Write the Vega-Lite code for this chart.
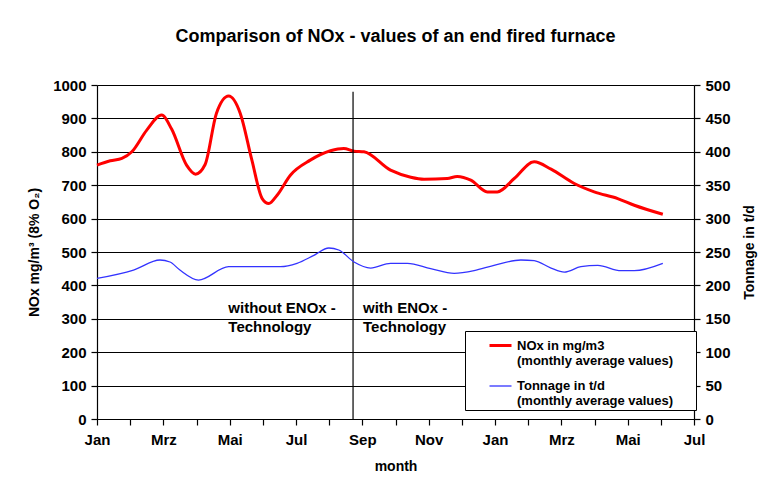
{
  "$schema": "https://vega.github.io/schema/vega-lite/v6.json",
  "width": 597,
  "height": 334,
  "autosize": "none",
  "padding": {"left": 97, "top": 85, "right": 78, "bottom": 66},
  "background": "white",
  "config": {
    "font": "Liberation Sans",
    "view": {"stroke": null},
    "axis": {"labelColor": "black", "titleColor": "black", "domainColor": "black", "tickColor": "black", "labelFontWeight": "bold", "labelFontSize": 15, "titleFontWeight": "bold", "titleFontSize": 14, "tickSize": 6, "domainWidth": 1.2, "tickWidth": 1.2}
  },
  "title": {"text": "Comparison of NOx - values of an end fired furnace", "fontSize": 18, "fontWeight": "bold", "color": "black", "anchor": "middle", "frame": "group", "offset": 32},
  "datasets": {
    "nox": [
      {"month": 0, "value": 760, "series": "NOx"},
      {"month": 0.4, "value": 773, "series": "NOx"},
      {"month": 0.75, "value": 780, "series": "NOx"},
      {"month": 1.05, "value": 800, "series": "NOx"},
      {"month": 1.5, "value": 865, "series": "NOx"},
      {"month": 1.95, "value": 910, "series": "NOx"},
      {"month": 2.25, "value": 868, "series": "NOx"},
      {"month": 2.7, "value": 760, "series": "NOx"},
      {"month": 2.97, "value": 733, "series": "NOx"},
      {"month": 3.26, "value": 762, "series": "NOx"},
      {"month": 3.6, "value": 915, "series": "NOx"},
      {"month": 3.97, "value": 967, "series": "NOx"},
      {"month": 4.32, "value": 915, "series": "NOx"},
      {"month": 4.67, "value": 775, "series": "NOx"},
      {"month": 4.98, "value": 660, "series": "NOx"},
      {"month": 5.18, "value": 645, "series": "NOx"},
      {"month": 5.43, "value": 670, "series": "NOx"},
      {"month": 5.83, "value": 730, "series": "NOx"},
      {"month": 6.43, "value": 775, "series": "NOx"},
      {"month": 7.04, "value": 803, "series": "NOx"},
      {"month": 7.44, "value": 810, "series": "NOx"},
      {"month": 7.75, "value": 802, "series": "NOx"},
      {"month": 8.05, "value": 800, "series": "NOx"},
      {"month": 8.85, "value": 745, "series": "NOx"},
      {"month": 9.46, "value": 724, "series": "NOx"},
      {"month": 9.86, "value": 718, "series": "NOx"},
      {"month": 10.56, "value": 720, "series": "NOx"},
      {"month": 10.86, "value": 726, "series": "NOx"},
      {"month": 11.27, "value": 715, "series": "NOx"},
      {"month": 11.77, "value": 680, "series": "NOx"},
      {"month": 12.07, "value": 680, "series": "NOx"},
      {"month": 12.58, "value": 720, "series": "NOx"},
      {"month": 13.18, "value": 770, "series": "NOx"},
      {"month": 13.69, "value": 748, "series": "NOx"},
      {"month": 14.39, "value": 705, "series": "NOx"},
      {"month": 14.99, "value": 680, "series": "NOx"},
      {"month": 15.7, "value": 660, "series": "NOx"},
      {"month": 16.2, "value": 640, "series": "NOx"},
      {"month": 17.06, "value": 613, "series": "NOx"}
    ],
    "ton": [
      {"month": 0, "value": 210.5, "series": "Tonnage"},
      {"month": 1.1, "value": 223, "series": "Tonnage"},
      {"month": 1.9, "value": 238, "series": "Tonnage"},
      {"month": 2.2, "value": 235, "series": "Tonnage"},
      {"month": 2.5, "value": 223, "series": "Tonnage"},
      {"month": 3.06, "value": 208, "series": "Tonnage"},
      {"month": 3.97, "value": 228, "series": "Tonnage"},
      {"month": 5.53, "value": 228, "series": "Tonnage"},
      {"month": 6.03, "value": 233, "series": "Tonnage"},
      {"month": 6.54, "value": 245, "series": "Tonnage"},
      {"month": 6.99, "value": 256, "series": "Tonnage"},
      {"month": 7.29, "value": 253, "series": "Tonnage"},
      {"month": 7.75, "value": 235, "series": "Tonnage"},
      {"month": 8.25, "value": 226, "series": "Tonnage"},
      {"month": 8.85, "value": 233, "series": "Tonnage"},
      {"month": 9.36, "value": 233, "series": "Tonnage"},
      {"month": 10.06, "value": 225, "series": "Tonnage"},
      {"month": 10.77, "value": 218, "series": "Tonnage"},
      {"month": 11.37, "value": 222, "series": "Tonnage"},
      {"month": 11.97, "value": 230, "series": "Tonnage"},
      {"month": 12.78, "value": 238, "series": "Tonnage"},
      {"month": 13.18, "value": 237, "series": "Tonnage"},
      {"month": 13.69, "value": 226, "series": "Tonnage"},
      {"month": 14.09, "value": 220, "series": "Tonnage"},
      {"month": 14.59, "value": 228, "series": "Tonnage"},
      {"month": 15.1, "value": 230, "series": "Tonnage"},
      {"month": 15.8, "value": 222, "series": "Tonnage"},
      {"month": 16.2, "value": 222, "series": "Tonnage"},
      {"month": 17.06, "value": 233, "series": "Tonnage"}
    ],
    "divider": [{"month": 7.72, "value": 0, "value2": 980}],
    "notes": [
      {"month": 3.96, "value": 332, "label": "without ENOx -"},
      {"month": 3.96, "value": 275, "label": "Technology"},
      {"month": 8.02, "value": 332, "label": "with ENOx -"},
      {"month": 8.02, "value": 275, "label": "Technology"}
    ]
  },
  "layer": [
    {
      "layer": [
        {
          "data": {"name": "nox"},
          "mark": {"type": "line", "interpolate": "monotone"},
          "encoding": {
            "x": {"field": "month", "type": "quantitative", "scale": {"domain": [0, 18], "nice": false},
              "axis": {"values": [0,1,2,3,4,5,6,7,8,9,10,11,12,13,14,15,16,17,18], "tickCount": 40, "grid": false, "title": "month", "titlePadding": 12, "labelPadding": 7, "labelFlush": false, "labelOverlap": false,
                "labelExpr": "datum.value % 2 == 0 ? ['Jan','Feb','Mrz','Apr','Mai','Jun','Jul','Aug','Sep','Okt','Nov','Dez'][datum.value % 12] : ''"}},
            "y": {"field": "value", "type": "quantitative", "scale": {"domain": [0, 1000], "nice": false},
              "axis": {"values": [0,100,200,300,400,500,600,700,800,900,1000], "tickCount": 40, "format": "d", "labelOverlap": false, "grid": true, "gridColor": "black", "gridWidth": 1.2, "gridOpacity": 1, "title": "NOx mg/m³ (8% O₂)", "titlePadding": 11, "labelPadding": 5}},
            "color": {"field": "series", "type": "nominal",
              "scale": {"domain": ["NOx", "Tonnage"], "range": ["#ff0000", "#3333ff"]},
              "legend": {"title": null, "orient": "none", "legendX": 368, "legendY": 246, "strokeColor": "black", "fillColor": "white", "padding": 2, "symbolType": "stroke", "symbolSize": 484, "symbolOffset": 21, "labelOffset": 4, "labelFontSize": 13, "labelFontWeight": "bold", "labelColor": "black", "labelLimit": 400, "rowPadding": 6, "labelBaseline": "middle",
                "labelExpr": "datum.value == 'NOx' ? ['NOx in mg/m3', '(monthly average values)\u2800\u2800'] : ['Tonnage in t/d', '(monthly average values)\u2800\u2800']"}},
            "strokeWidth": {"field": "series", "type": "nominal",
              "scale": {"domain": ["NOx", "Tonnage"], "range": [3, 1.3]},
              "legend": {"title": null, "orient": "none", "legendX": 368, "legendY": 246, "strokeColor": "black", "fillColor": "white", "padding": 2, "symbolType": "stroke", "symbolSize": 484, "symbolOffset": 21, "labelOffset": 4, "labelFontSize": 13, "labelFontWeight": "bold", "labelColor": "black", "labelLimit": 400, "rowPadding": 6, "labelBaseline": "middle",
                "labelExpr": "datum.value == 'NOx' ? ['NOx in mg/m3', '(monthly average values)\u2800\u2800'] : ['Tonnage in t/d', '(monthly average values)\u2800\u2800']"}}
          }
        },
        {
          "data": {"name": "divider"},
          "mark": {"type": "rule", "color": "black", "strokeWidth": 1.2},
          "encoding": {
            "x": {"field": "month", "type": "quantitative"},
            "y": {"field": "value", "type": "quantitative",
              "axis": {"values": [0,100,200,300,400,500,600,700,800,900,1000], "tickCount": 40, "format": "d", "labelOverlap": false, "grid": true, "gridColor": "black", "gridWidth": 1.2, "gridOpacity": 1, "title": "NOx mg/m³ (8% O₂)", "titlePadding": 11, "labelPadding": 5}},
            "y2": {"field": "value2"}
          }
        },
        {
          "data": {"name": "notes"},
          "mark": {"type": "text", "align": "left", "baseline": "middle", "fontSize": 15, "fontWeight": "bold", "color": "black"},
          "encoding": {
            "x": {"field": "month", "type": "quantitative"},
            "y": {"field": "value", "type": "quantitative",
              "axis": {"values": [0,100,200,300,400,500,600,700,800,900,1000], "tickCount": 40, "format": "d", "labelOverlap": false, "grid": true, "gridColor": "black", "gridWidth": 1.2, "gridOpacity": 1, "title": "NOx mg/m³ (8% O₂)", "titlePadding": 11, "labelPadding": 5}},
            "text": {"field": "label"}
          }
        }
      ]
    },
    {
      "data": {"name": "ton"},
      "mark": {"type": "line", "interpolate": "monotone"},
      "encoding": {
        "x": {"field": "month", "type": "quantitative"},
        "y": {"field": "value", "type": "quantitative", "scale": {"domain": [0, 500], "nice": false},
          "axis": {"orient": "right", "values": [0,50,100,150,200,250,300,350,400,450,500], "tickCount": 40, "labelOverlap": false, "grid": false, "title": "Tonnage in t/d", "titleAngle": 270, "titlePadding": 26, "labelPadding": 5}},
        "color": {"field": "series", "type": "nominal"},
        "strokeWidth": {"field": "series", "type": "nominal"}
      }
    }
  ],
  "resolve": {"scale": {"y": "independent"}}
}
